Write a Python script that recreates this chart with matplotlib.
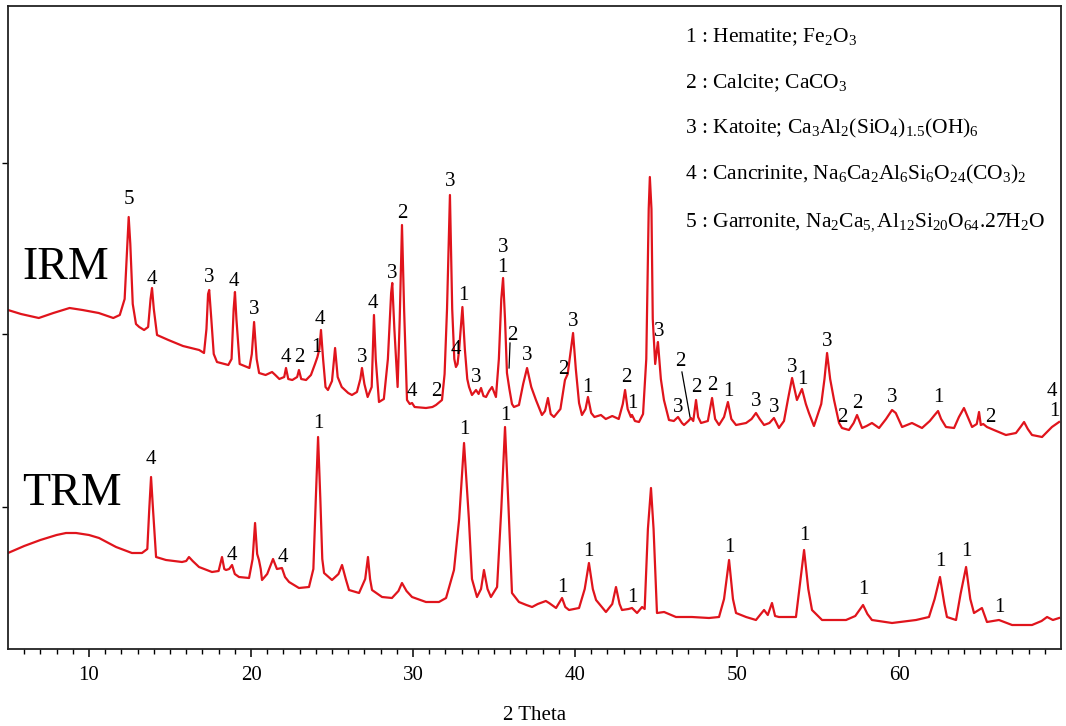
import matplotlib
matplotlib.use("Agg")
import matplotlib.pyplot as plt

plt.rcParams["font.family"] = ["Liberation Serif", "DejaVu Serif"]
plt.rcParams["mathtext.fontset"] = "custom"
plt.rcParams["mathtext.rm"] = "Liberation Serif"
plt.rcParams["mathtext.it"] = "Liberation Serif:italic"
plt.rcParams["mathtext.default"] = "regular"

# IRM diffractogram, traced vertex by vertex (2 theta, intensity a.u.)
irm_2theta = [
    5.0, 5.8, 6.9, 7.8, 8.8, 9.6, 10.6, 11.5, 11.9, 12.2, 12.35, 12.45, 12.55, 12.7, 12.9,
    13.1, 13.4, 13.65, 13.8, 13.89, 14.0, 14.2, 14.9, 15.8, 16.8, 17.1, 17.25, 17.35, 17.42,
    17.55, 17.7, 17.9, 18.6, 18.8, 18.93, 19.01, 19.1, 19.3, 19.9, 20.05, 20.19, 20.35, 20.5,
    20.9, 21.3, 21.5, 21.75, 22.05, 22.16, 22.3, 22.55, 22.85, 22.96, 23.1, 23.4, 23.7, 23.95,
    24.1, 24.22, 24.32, 24.45, 24.6, 24.75, 25.0, 25.19, 25.35, 25.6, 26.0, 26.23, 26.54,
    26.75, 26.85, 27.0, 27.2, 27.45, 27.59, 27.7, 27.9, 28.2, 28.45, 28.65, 28.72, 28.85,
    29.05, 29.18, 29.32, 29.45, 29.63, 29.8, 29.94, 30.1, 30.8, 31.2, 31.42, 31.79, 31.95,
    32.1, 32.28, 32.42, 32.55, 32.65, 32.75, 32.85, 33.05, 33.2, 33.35, 33.46, 33.64, 33.89,
    34.05, 34.2, 34.35, 34.51, 34.7, 34.88, 35.05, 35.12, 35.3, 35.45, 35.56, 35.68, 35.8,
    35.95, 36.11, 36.23, 36.54, 36.8, 37.04, 37.3, 37.59, 37.96, 38.15, 38.33, 38.5, 38.7,
    39.1, 39.38, 39.55, 39.75, 39.88, 40.05, 40.25, 40.43, 40.65, 40.8, 41.0, 41.2, 41.6,
    41.9, 42.3, 42.7, 42.95, 43.09, 43.25, 43.45, 43.52, 43.7, 43.95, 44.2, 44.4, 44.55,
    44.62, 44.72, 44.8, 44.95, 45.06, 45.12, 45.3, 45.49, 45.8, 46.1, 46.36, 46.6, 46.73,
    47.0, 47.16, 47.3, 47.47, 47.6, 47.78, 48.2, 48.46, 48.65, 48.89, 49.2, 49.44, 49.65,
    49.94, 50.56, 50.9, 51.17, 51.4, 51.67, 52.0, 52.28, 52.59, 52.9, 53.15, 53.4, 53.7,
    54.01, 54.25, 54.44, 54.75, 55.2, 55.4, 55.56, 55.75, 55.99, 56.3, 56.48, 56.91, 57.2,
    57.41, 57.6, 57.72, 58.0, 58.33, 58.77, 59.2, 59.57, 59.8, 60.19, 60.8, 61.42, 61.9,
    62.2, 62.41, 62.6, 62.9, 63.4, 63.7, 64.01, 64.25, 64.51, 64.8, 64.94, 65.05, 65.2,
    65.43, 65.86, 66.6, 67.22, 67.5, 67.72, 67.95, 68.21, 68.83, 69.44, 69.88,
]
irm_counts = [
    339, 335, 331, 336, 341, 339, 336, 331, 334, 350, 400, 432, 405, 345, 325,
    322, 319, 322, 350, 361, 340, 314, 309, 303, 299, 296, 320, 355, 359,
    330, 295, 287, 284, 290, 340, 357, 330, 285, 281, 295, 327, 290, 276,
    274, 277, 274, 270, 272, 281, 270, 269, 272, 279, 270, 269, 274, 285,
    292, 300, 319, 290, 262, 259, 268, 301, 272, 262, 256, 254, 257,
    270, 281, 265, 252, 262, 334, 290, 247, 250, 290, 356, 366, 320,
    262, 330, 424, 340, 249, 245, 246, 242, 241, 242, 244, 249, 275,
    340, 454, 340, 290, 282, 285, 300, 342, 300, 270, 262, 254, 259,
    255, 261, 253, 252, 258, 262, 255, 252, 290, 350, 371, 330, 276,
    260, 245, 242, 244, 265, 281, 262, 249, 234, 238, 251, 235, 232,
    240, 269, 275, 300, 316, 280, 246, 234, 240, 252, 236, 232, 234,
    230, 233, 230, 245, 259, 240, 232, 234, 228, 227, 235, 290, 440,
    472, 440, 330, 285, 300, 307, 270, 249, 229, 228, 232, 226, 224,
    228, 231, 228, 249, 232, 226, 228, 251, 230, 224, 232, 247, 230,
    224, 226, 230, 236, 230, 224, 226, 231, 221, 228, 250, 271, 249,
    260, 245, 236, 223, 245, 270, 296, 270, 249, 226, 221, 219, 226,
    234, 226, 221, 223, 226, 221, 230, 239, 236, 222, 226, 221, 228,
    234, 238, 230, 222, 221, 232, 241, 232, 222, 225, 237, 224, 225,
    222, 219, 214, 216, 222, 227, 220, 214, 212, 222, 227,
]

# TRM diffractogram
trm_2theta = [
    5.0, 6.0, 7.0, 8.0, 8.58, 9.2, 10.0, 10.62, 11.67, 12.65, 13.27, 13.6, 13.72, 13.83,
    13.95, 14.14, 14.75, 15.74, 16.0, 16.17, 16.4, 16.79, 17.59, 18.0, 18.21, 18.35, 18.46,
    18.65, 18.83, 19.0, 19.26, 19.88, 20.1, 20.25, 20.38, 20.49, 20.6, 20.68, 21.0, 21.36,
    21.6, 21.91, 22.1, 22.35, 22.96, 23.58, 23.85, 24.0, 24.14, 24.28, 24.4, 24.51, 25.0,
    25.4, 25.62, 25.85, 26.05, 26.67, 27.05, 27.22, 27.35, 27.47, 28.09, 28.7, 29.1, 29.32,
    29.6, 29.94, 30.8, 31.6, 32.04, 32.53, 32.85, 33.15, 33.45, 33.64, 33.95, 34.2, 34.38,
    34.6, 34.81, 35.19, 35.45, 35.68, 35.9, 36.11, 36.54, 37.0, 37.35, 37.7, 38.2, 38.4,
    38.83, 39.2, 39.4, 39.63, 40.25, 40.6, 40.86, 41.1, 41.3, 41.91, 42.3, 42.53, 42.75,
    42.9, 43.3, 43.52, 43.83, 44.14, 44.3, 44.5, 44.69, 44.85, 45.06, 45.5, 46.23, 47.22,
    48.27, 48.89, 49.2, 49.51, 49.75, 49.94, 50.56, 51.17, 51.67, 51.9, 52.16, 52.35, 52.59,
    53.64, 53.85, 54.14, 54.4, 54.63, 55.25, 56.73, 57.3, 57.78, 58.05, 58.33, 59.57, 61.05,
    61.85, 62.2, 62.53, 62.8, 62.96, 63.52, 63.8, 64.14, 64.4, 64.63, 65.12, 65.43, 66.17,
    66.98, 68.21, 68.8, 69.14, 69.5, 69.88,
]
trm_counts = [
    96, 103, 109, 114, 116, 116, 114, 111, 102, 96, 96, 100, 140, 172,
    140, 92, 89, 87, 88, 92, 88, 82, 77, 78, 92, 80, 79,
    80, 84, 75, 72, 71, 90, 126, 95, 89, 80, 69, 75, 90,
    80, 81, 72, 67, 61, 62, 80, 150, 212, 150, 90, 76, 69,
    75, 84, 70, 59, 56, 70, 92, 70, 59, 52, 51, 58, 66,
    58, 52, 47, 47, 51, 79, 130, 206, 130, 70, 52, 60, 79,
    60, 52, 62, 140, 222, 140, 56, 47, 44, 42, 45, 48, 46,
    41, 51, 42, 39, 41, 60, 86, 60, 49, 37, 45, 62, 45,
    39, 40, 41, 36, 42, 40, 120, 161, 120, 36, 37, 32, 32,
    31, 32, 50, 89, 50, 36, 32, 29, 39, 34, 46, 33, 32,
    32, 60, 99, 60, 39, 29, 29, 33, 44, 35, 29, 26, 29,
    32, 50, 72, 45, 32, 29, 55, 82, 50, 36, 41, 27, 29,
    24, 24, 28, 32, 29, 31,
]

# phase markers: 1 hematite, 2 calcite, 3 katoite, 4 cancrinite, 5 garronite
irm_tag = ["5", "4", "3", "4", "3", "4", "2", "1", "4", "3", "4", "3", "2", "4", "2", "3",
           "4", "1", "3", "3", "1", "2", "3", "2", "3", "1", "2", "1", "3", "2", "3", "2",
           "2", "1", "3", "3", "3", "1", "3", "2", "2", "3", "1", "2", "4", "1"]
irm_tag_2theta = [12.47, 13.89, 17.41, 18.95, 20.19, 22.16, 22.96, 24.01, 24.26, 26.85,
                  27.53, 28.70, 29.32, 29.94, 31.42, 32.28, 32.65, 33.09, 33.89, 35.56,
                  35.49, 36.11, 37.04, 39.26, 39.88, 40.74, 43.15, 43.52, 45.19, 46.48,
                  46.36, 47.47, 48.46, 49.44, 51.17, 52.28, 53.40, 54.01, 55.56, 56.48,
                  57.41, 59.57, 62.41, 65.62, 69.44, 69.57]
irm_tag_counts = [449, 370, 372, 367, 339, 292, 291, 302, 329, 292, 346, 376, 436, 257,
                  257, 467, 299, 353, 272, 401, 381, 314, 294, 279, 327, 262, 271, 245,
                  317, 287, 241, 262, 263, 258, 247, 242, 282, 269, 307, 232, 246, 251,
                  251, 231, 257, 237]

trm_tag = ["4", "4", "4", "1", "1", "1", "1", "1", "1", "1", "1", "1", "1", "1", "1"]
trm_tag_2theta = [13.83, 18.83, 21.98, 24.14, 33.15, 35.68, 39.20, 40.80, 43.52, 49.51,
                  54.14, 57.78, 62.53, 64.14, 66.17]
trm_tag_counts = [189, 94, 91, 226, 219, 234, 62, 97, 51, 102, 114, 59, 87, 97, 42]

# leader lines for crowded calcite markers (2 theta pairs, counts pairs)
leader_2theta = [[35.99, 35.93], [46.60, 47.10]]
leader_counts = [[306, 281], [277, 232]]

phases = [
    r"1 : Hematite; Fe$_2$O$_3$",
    r"2 : Calcite; CaCO$_3$",
    r"3 : Katoite; Ca$_3$Al$_2$(SiO$_4$)$_{1.5}$(OH)$_6$",
    r"4 : Cancrinite, Na$_6$Ca$_2$Al$_6$Si$_6$O$_{24}$(CO$_3$)$_2$",
    r"5 : Garronite, Na$_2$Ca$_{5,}$Al$_{12}$Si$_{20}$O$_{64}$.27H$_2$O",
]

RED = "#e0141c"

fig = plt.figure(figsize=(10.66, 7.26), dpi=100)
ax = fig.add_axes([8 / 1066, 1 - 649 / 726, 1053 / 1066, 643 / 726])

ax.plot(irm_2theta, irm_counts, color=RED, lw=1.6)
ax.plot(trm_2theta, trm_counts, color=RED, lw=1.6)

for t, x, y in zip(irm_tag, irm_tag_2theta, irm_tag_counts):
    ax.text(x, y, t, ha="center", va="center", fontsize=15)
for t, x, y in zip(trm_tag, trm_tag_2theta, trm_tag_counts):
    ax.text(x, y, t, ha="center", va="center", fontsize=15)
for xs, ys in zip(leader_2theta, leader_counts):
    ax.plot(xs, ys, color="black", lw=0.9)

ax.text(5.86, 381, "IRM", ha="left", va="center", fontsize=33)
ax.text(5.86, 155, "TRM", ha="left", va="center", fontsize=33)

for i, line in enumerate(phases):
    ax.text(0.643, 0.944 - i * 0.0715, line, transform=ax.transAxes,
            ha="left", va="baseline", fontsize=15.5)

ax.set_xlim(5, 70)
ax.set_ylim(0, 643)
ax.set_xticks([10, 20, 30, 40, 50, 60])
ax.set_xticks(range(6, 70), minor=True)
ax.set_yticks([142, 315, 486])
ax.set_yticklabels([])
ax.tick_params(axis="x", which="major", direction="out", length=6, width=1.1,
               labelsize=15, pad=6)
ax.tick_params(axis="x", which="minor", direction="out", length=3.5, width=1.0)
ax.tick_params(axis="y", direction="out", length=4, width=1.0)
ax.set_xlabel("2 Theta", fontsize=15, labelpad=15)
for side in ax.spines.values():
    side.set_linewidth(1.3)
    side.set_color("#222222")

fig.savefig("out.png", dpi=100)
